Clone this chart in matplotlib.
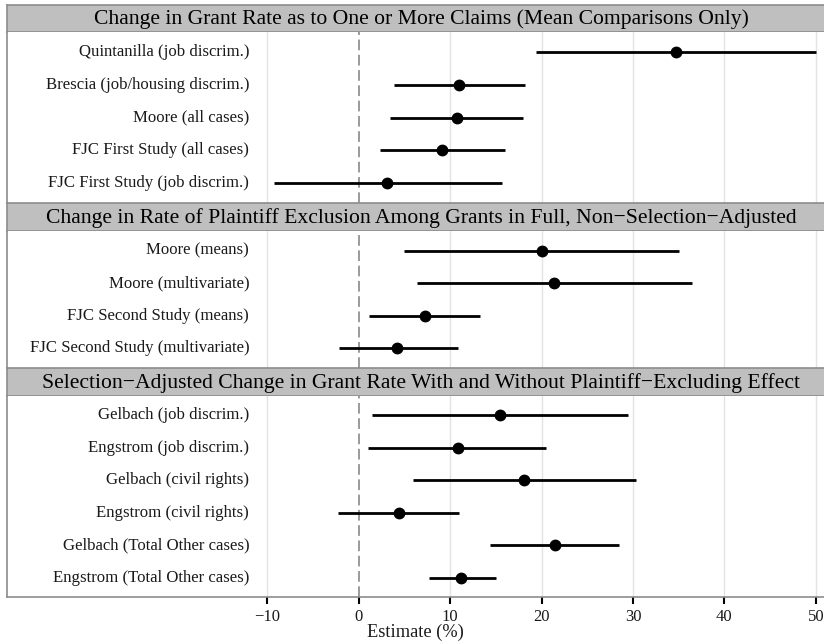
import numpy as np
import matplotlib
matplotlib.use("Agg")
import matplotlib.pyplot as plt
from matplotlib.patches import Rectangle

plt.rcParams['font.family'] = ['Liberation Serif', 'DejaVu Serif']

# panel titles
panel_titles = [
    "Change in Grant Rate as to One or More Claims (Mean Comparisons Only)",
    "Change in Rate of Plaintiff Exclusion Among Grants in Full, Non\u2212Selection\u2212Adjusted",
    "Selection\u2212Adjusted Change in Grant Rate With and Without Plaintiff\u2212Excluding Effect",
]

# panel 1
labels1 = ["Quintanilla (job discrim.)", "Brescia (job/housing discrim.)",
           "Moore (all cases)", "FJC First Study (all cases)",
           "FJC First Study (job discrim.)"]
est1 = [34.7, 11.0, 10.7, 9.1, 3.1]
lo1 = [19.4, 3.8, 3.4, 2.3, -9.3]
hi1 = [50.0, 18.2, 18.0, 16.0, 15.7]

# panel 2
labels2 = ["Moore (means)", "Moore (multivariate)",
           "FJC Second Study (means)", "FJC Second Study (multivariate)"]
est2 = [20.0, 21.4, 7.2, 4.2]
lo2 = [4.9, 6.4, 1.1, -2.2]
hi2 = [35.0, 36.5, 13.3, 10.8]

# panel 3
labels3 = ["Gelbach (job discrim.)", "Engstrom (job discrim.)",
           "Gelbach (civil rights)", "Engstrom (civil rights)",
           "Gelbach (Total Other cases)", "Engstrom (Total Other cases)"]
est3 = [15.4, 10.8, 18.1, 4.4, 21.5, 11.2]
lo3 = [1.4, 1.0, 5.9, -2.3, 14.4, 7.7]
hi3 = [29.5, 20.5, 30.3, 11.0, 28.5, 15.0]

xticks = [-10, 0, 10, 20, 30, 40, 50]
label_x = -12.0
xlim = (-38.5, 50.9)

W, H = 824, 641
fig = plt.figure(figsize=(W / 100, H / 100), dpi=100)

left_px, right_px = 7, 824
# (strip top, panel top, panel bottom) in pixels from the top
layout = [(5, 32, 203), (203, 231, 368), (368, 396, 597)]
panels = [(labels1, est1, lo1, hi1), (labels2, est2, lo2, hi2),
          (labels3, est3, lo3, hi3)]

strip_fill = '#bfbfbf'
frame_col = '#8c8c8c'

for i, ((s_top, p_top, p_bot), (labs, est, lo, hi)) in enumerate(zip(layout, panels)):
    # strip
    sax = fig.add_axes([left_px / W, 1 - p_top / H, (right_px - left_px) / W,
                        (p_top - s_top) / H])
    sax.set_xlim(0, 1)
    sax.set_ylim(0, 1)
    sax.axis('off')
    sax.add_patch(Rectangle((0, 0), 1, 1, facecolor=strip_fill,
                            edgecolor='none', transform=sax.transAxes))
    sax.plot([0, 1], [1, 1], color=frame_col, lw=1.2, transform=sax.transAxes,
             clip_on=False)
    sax.plot([0, 1], [0, 0], color=frame_col, lw=1.2, transform=sax.transAxes,
             clip_on=False)
    sax.plot([0, 0], [0, 1], color=frame_col, lw=1.2, transform=sax.transAxes,
             clip_on=False)
    sax.text((421 - left_px) / (right_px - left_px), 0.46, panel_titles[i],
             ha='center', va='center', fontsize=15.6, color='black')

    # panel
    ax = fig.add_axes([left_px / W, 1 - p_bot / H, (right_px - left_px) / W,
                       (p_bot - p_top) / H])
    n = len(labs)
    y = np.arange(n)[::-1]
    ax.set_xlim(*xlim)
    ax.set_ylim(-0.6, n - 1 + 0.6)
    for t in [-10, 10, 20, 30, 40, 50]:
        ax.axvline(t, color='#e3e3e3', lw=1.0, zorder=0)
    ax.axvline(0, color='#7f7f7f', lw=1.1, ls=(0, (7, 3)), zorder=1)
    ax.hlines(y, lo, hi, color='black', lw=2.0, zorder=2)
    ax.plot(est, y, 'o', color='black', ms=7.5, zorder=3)
    for yy, lab in zip(y, labs):
        ax.text(label_x, yy, lab, ha='right', va='center', fontsize=12.1,
                color='#1a1a1a')
    ax.set_yticks([])
    for side in ['top', 'right']:
        ax.spines[side].set_visible(False)
    ax.spines['left'].set_color(frame_col)
    ax.spines['left'].set_linewidth(1.2)
    if i < 2:
        ax.spines['bottom'].set_visible(False)
        ax.set_xticks([])
    else:
        ax.spines['bottom'].set_color(frame_col)
        ax.spines['bottom'].set_linewidth(1.2)
        ax.set_xticks(xticks)
        ax.set_xticklabels([f"\u2212{abs(t)}" if t < 0 else str(t) for t in xticks])
        ax.tick_params(axis='x', length=5, width=1.5, color='black',
                       labelsize=12, pad=3.5, labelcolor='#1a1a1a')
        ax.set_xlabel("Estimate (%)", fontsize=13.2, labelpad=-1, color='#1a1a1a')

fig.savefig("out.png", dpi=100)
